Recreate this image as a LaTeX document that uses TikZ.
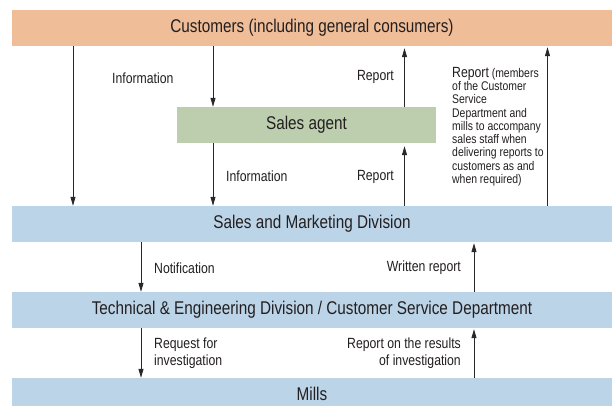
\documentclass[tikz,border=0pt]{standalone}
\usepackage{fontspec}
\setmainfont{Liberation Sans}[FakeStretch=0.83]
\usetikzlibrary{arrows.meta}
\definecolor{custc}{RGB}{239,189,152}
\definecolor{agentc}{RGB}{188,206,174}
\definecolor{bluec}{RGB}{188,212,232}
\definecolor{txt}{RGB}{35,31,32}
\definecolor{linec}{RGB}{40,40,40}
\begin{document}
\begin{tikzpicture}[x=1bp,y=-1bp,
  bar/.style={rectangle, inner sep=0pt, minimum height=36bp, minimum width=600bp,
    font=\fontsize{18.5}{20}\selectfont, text=txt},
  arr/.style={draw=linec, line width=0.8bp, -{Triangle[length=9bp,width=5bp]}},
  lbl/.style={font=\fontsize{14.8}{16.5}\selectfont, text=txt, inner sep=0pt},
  note/.style={font=\fontsize{12.6}{13.3}\selectfont, text=txt, inner sep=0pt, align=left}
]
\useasboundingbox (0,0) rectangle (612,405);
\fill[white] (0,0) rectangle (612,405);
\node[bar, fill=custc] (cust) at (312,28) {Customers (including general consumers)};
\node[bar, fill=agentc, minimum width=259bp] (agent) at (306.5,125) {Sales agent};
\node[bar, fill=bluec] (smd) at (312,224) {Sales and Marketing Division};
\node[bar, fill=bluec] (ted) at (312,310) {Technical \& Engineering Division / Customer Service Department};
\node[bar, fill=bluec, minimum height=32bp] (mills) at (312,394) {Mills};

\coordinate (xa) at (73,0);
\coordinate (xb) at (213,0);
\coordinate (xc) at (404.5,0);
\coordinate (xd) at (547.5,0);
\coordinate (xe) at (141,0);
\coordinate (xf) at (474,0);

\draw[arr] (cust.south -| xa) -- (smd.north -| xa);
\draw[arr] (cust.south -| xb) -- (agent.north -| xb);
\draw[arr] (agent.south -| xb) -- (smd.north -| xb);
\draw[arr, shorten >=2bp] (agent.north -| xc) -- (cust.south -| xc);
\draw[arr, shorten >=3bp] (smd.north -| xc) -- (agent.south -| xc);
\draw[arr, shorten >=1bp] (smd.north -| xd) -- (cust.south -| xd);
\draw[arr] (smd.south -| xe) -- (ted.north -| xe);
\draw[arr, shorten >=1bp] (ted.north -| xf) -- (smd.south -| xf);
\draw[arr] (ted.south -| xe) -- (mills.north -| xe);
\draw[arr, shorten >=1bp] (mills.north -| xf) -- (ted.south -| xf);

\node[lbl, anchor=west] (l1) at (112,78) {Information};
\node[lbl, anchor=west] (l2) at (226,176) {Information};
\node[lbl, anchor=east] (l3) at (394,77) {Report};
\node[lbl, anchor=east] (l4) at (394,177) {Report};
\node[lbl, anchor=west] (l5) at (154,268) {Notification};
\node[lbl, anchor=east] (l6) at (461,268) {Written report};
\node[lbl, anchor=west, align=left] (l7) at (154,353) {Request for\\investigation};
\node[lbl, anchor=east, align=right] (l8) at (461,353) {Report on the results\\of investigation};
\node[note, anchor=north west] (l9) at (452,67) {{\fontsize{14.8}{13.3}\selectfont Report} (members\\of the Customer\\Service\\Department and\\mills to accompany\\sales staff when\\delivering reports to\\customers as and\\when required)};
\end{tikzpicture}
\end{document}
